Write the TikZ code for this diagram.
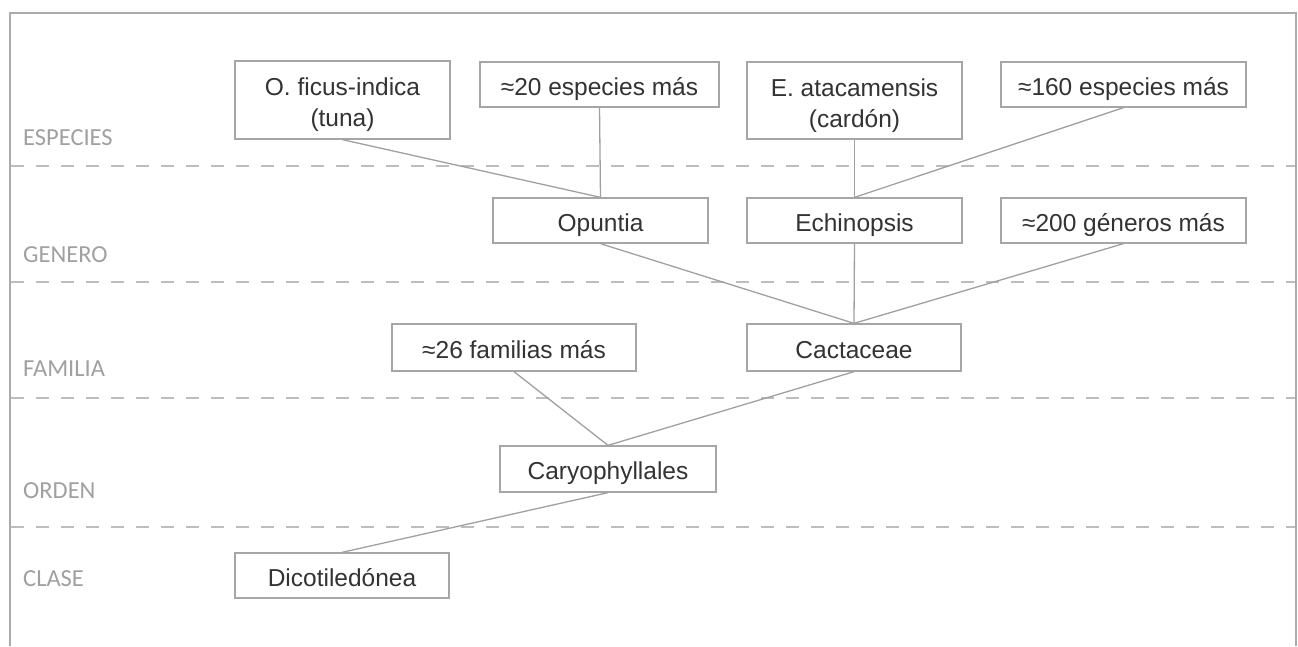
\documentclass[tikz,border=0pt]{standalone}
\usepackage{fontspec}
\setmainfont{Liberation Sans}
\newfontfamily\lblfont{Carlito}
\definecolor{boxline}{HTML}{A6A6A6}
\definecolor{conn}{HTML}{A0A0A0}
\definecolor{dashc}{HTML}{BDBDBD}
\definecolor{txt}{HTML}{333333}
\definecolor{lbl}{HTML}{A0A0A0}
\definecolor{frame}{HTML}{ABABAB}
\newcommand{\topstrut}{\rule{0pt}{28pt}}
\tikzset{
  taxbox/.style={draw=boxline, line width=1.3pt, fill=white, rectangle, inner sep=0pt,
    align=center, text=txt, font=\fontsize{24.5}{31}\selectfont},
  oneline/.style={taxbox, text height=21pt, text depth=0pt},
  link/.style={draw=conn, line width=1.3pt},
  rankline/.style={draw=dashc, line width=2.4pt, dash pattern=on 13pt off 12pt},
  ranklabel/.style={anchor=base west, inner sep=0pt, text=lbl, font=\lblfont\fontsize{24.5}{28}\selectfont},
  framel/.style={draw=frame, line width=1.6pt}
}
\begin{document}
\begin{tikzpicture}[x=1pt,y=-1pt]
\useasboundingbox (0,0) rectangle (1298,646);
% frame
\coordinate (fbl) at (10,646);
\coordinate (ftl) at (10,13);
\coordinate (ftr) at (1296,13);
\coordinate (fbr) at (1296,646);
\draw[framel] (fbl) -- (ftl) -- (ftr) -- (fbr);
% rank separators
\foreach \yy/\nm in {166/a,282/b,398/c,527/d}{
  \coordinate (sl\nm) at (11,\yy);
  \coordinate (sr\nm) at (1295,\yy);
  \draw[rankline] (sl\nm) -- (sr\nm);
}
% rank labels
\node[ranklabel] (lesp) at (23,145) {ESPECIES};
\node[ranklabel] (lgen) at (23,262) {GENERO};
\node[ranklabel] (lfam) at (23,376) {FAMILIA};
\node[ranklabel] (lord) at (23,498) {ORDEN};
\node[ranklabel] (lcla) at (23,586) {CLASE};
% boxes
\node[taxbox, minimum width=215pt, minimum height=78pt] (ofi) at (342.5,100) {\topstrut O. ficus-indica\\(tuna)};
\node[oneline, minimum width=239pt, minimum height=45pt] (e20) at (599.5,84.5) {≈20 especies más};
\node[taxbox, minimum width=215pt, minimum height=77pt] (eat) at (854.5,100.5) {\topstrut E. atacamensis\\(cardón)};
\node[oneline, minimum width=245pt, minimum height=45pt] (e160) at (1123.5,84.5) {≈160 especies más};
\node[oneline, minimum width=215pt, minimum height=45pt] (opu) at (600.5,220.5) {Opuntia};
\node[oneline, minimum width=215pt, minimum height=45pt] (ech) at (854.5,220.5) {Echinopsis};
\node[oneline, minimum width=245pt, minimum height=45pt] (g200) at (1123.5,220.5) {≈200 géneros más};
\node[oneline, minimum width=244pt, minimum height=47pt] (f26) at (514,347.5) {≈26 familias más};
\node[oneline, minimum width=214pt, minimum height=47pt] (cac) at (854,347.5) {Cactaceae};
\node[oneline, minimum width=216pt, minimum height=46pt] (car) at (608,469) {Caryophyllales};
\node[oneline, minimum width=214pt, minimum height=45pt] (dic) at (342,575.5) {Dicotiledónea};
% connectors
\draw[link] (ofi.south) -- (opu.north);
\draw[link] (e20.south) -- (opu.north);
\draw[link] (eat.south) -- (ech.north);
\draw[link] (e160.south) -- (ech.north);
\draw[link] (opu.south) -- (cac.north);
\draw[link] (ech.south) -- (cac.north);
\draw[link] (g200.south) -- (cac.north);
\draw[link] (f26.south) -- (car.north);
\draw[link] (cac.south) -- (car.north);
\draw[link] (car.south) -- (dic.north);
\end{tikzpicture}
\end{document}
